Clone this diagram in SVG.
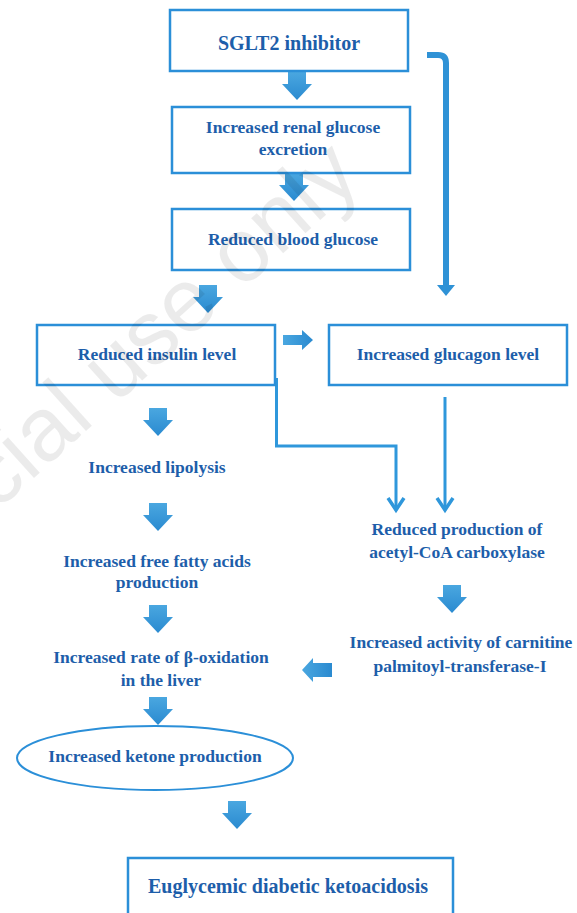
<svg xmlns="http://www.w3.org/2000/svg" xmlns:xlink="http://www.w3.org/1999/xlink" width="577" height="913" viewBox="0 0 577 913">
<style>
  .box { fill: #ffffff; stroke: #2b8fd8; stroke-width: 2.5; }
  .t { font-family: "Liberation Serif", "Times New Roman", serif; font-weight: bold; font-size: 17.5px; fill: #1d5eaa; text-anchor: middle; }
  .big { font-size: 20px; }
  .thin { fill: none; stroke: #2f97db; stroke-width: 3; }
  .head { fill: none; stroke: #2f97db; stroke-width: 3.5; stroke-linejoin: miter; }
  .fat { fill: url(#ag); }
  .wm { font-family: "Liberation Sans", Arial, sans-serif; font-size: 90px; fill: #000000; fill-opacity: 0.08; }
</style>
<defs>
  <linearGradient id="ag" x1="0" y1="0" x2="0" y2="1">
    <stop offset="0" stop-color="#4aa7e0"/>
    <stop offset="1" stop-color="#2a8ad0"/>
  </linearGradient>
  <linearGradient id="agh" x1="0" y1="0" x2="1" y2="0">
    <stop offset="0" stop-color="#4aa7e0"/>
    <stop offset="1" stop-color="#2a8ad0"/>
  </linearGradient>
  <path id="dn" d="M-9,0 H9 V12 H15 L0,28 L-15,12 H-9 Z"/>
</defs>
<rect width="577" height="913" fill="#ffffff"/>

<g id="connectors">
  <use href="#dn" class="fat" x="297" y="72"/>
  <use href="#dn" class="fat" x="294" y="173"/>
  <use href="#dn" class="fat" x="208" y="285"/>
  <use href="#dn" class="fat" x="158" y="408"/>
  <use href="#dn" class="fat" x="158" y="503"/>
  <use href="#dn" class="fat" x="452" y="585"/>
  <use href="#dn" class="fat" x="158" y="605"/>
  <use href="#dn" class="fat" x="158" y="697"/>
  <use href="#dn" class="fat" x="237" y="801"/>
  <path d="M283,335 H302 V330 L313,340 L302,350 V345 H283 Z" fill="url(#agh)"/>
  <path d="M332,663 H313 V658 L302,670 L313,682 V677 H332 Z" fill="url(#agh)"/>
  <path d="M427,55 H438 Q446,55 446,63 V287" fill="none" stroke="#2f92d6" stroke-width="6"/>
  <path d="M437,285 H455 L446,296 Z" fill="#2f92d6"/>
  <path class="thin" d="M276.5,378 V446 H396 V510"/>
  <path class="head" d="M388,498 L396,510 L404,498"/>
  <path class="thin" d="M445,397 V510"/>
  <path class="head" d="M437,498 L445,510 L453,498"/>
</g>

<g id="n1"><rect class="box" x="170" y="10" width="238" height="61"/><text class="t big" x="289" y="50">SGLT2 inhibitor</text></g>
<g id="n2"><rect class="box" x="172" y="107" width="238" height="66"/><text class="t" x="293" y="133">Increased renal glucose</text><text class="t" x="293" y="155">excretion</text></g>
<g id="n3"><rect class="box" x="172" y="209" width="238" height="61"/><text class="t" x="293" y="245">Reduced blood glucose</text></g>
<g id="n4"><rect class="box" x="37" y="325" width="238" height="60"/><text class="t" x="157" y="360">Reduced insulin level</text></g>
<g id="n5"><rect class="box" x="329" y="325" width="238" height="60"/><text class="t" x="448" y="360">Increased glucagon level</text></g>
<g id="n6"><text class="t" x="157" y="473">Increased lipolysis</text></g>
<g id="n7"><text class="t" x="157" y="567">Increased free fatty acids</text><text class="t" x="157" y="588">production</text></g>
<g id="n8"><text class="t" x="457" y="535">Reduced production of</text><text class="t" x="457" y="558">acetyl-CoA carboxylase</text></g>
<g id="n9"><text class="t" x="461" y="648">Increased activity of carnitine</text><text class="t" x="460" y="672">palmitoyl-transferase-I</text></g>
<g id="n10"><text class="t" x="161" y="663">Increased rate of β-oxidation</text><text class="t" x="161" y="686">in the liver</text></g>
<g id="n11"><ellipse cx="155" cy="758" rx="138" ry="32" fill="#ffffff" stroke="#2b8fd8" stroke-width="2"/><text class="t" x="155" y="762">Increased ketone production</text></g>
<g id="n12"><rect class="box" x="128" y="858" width="325" height="75"/><text class="t big" x="288" y="893">Euglycemic diabetic ketoacidosis</text></g>

<text class="wm" x="-4" y="512" transform="rotate(-42 -4 512)">cial use only</text>
</svg>
